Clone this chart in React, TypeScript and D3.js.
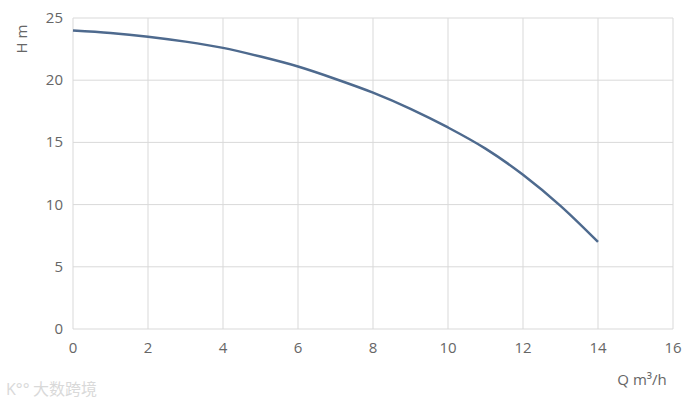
import React from "react";
import * as d3 from "d3";

// Q (m³/h) vs H (m) pump curve
const flowQ = [0, 1, 2, 3, 4, 5, 6, 7, 8, 9, 10, 11, 12, 13, 14];
const headH = [24, 23.8, 23.5, 23.1, 22.6, 21.9, 21.1, 20.1, 19.0, 17.7, 16.2, 14.5, 12.4, 9.9, 7.0];
const xTicks = [0, 2, 4, 6, 8, 10, 12, 14, 16];
const yTicks = [0, 5, 10, 15, 20, 25];

const App = () => {
  const width = 682;
  const height = 404;
  const left = 73; // plot left edge
  const right = 673;
  const top = 18;
  const bottom = 329;

  const x = d3.scaleLinear().domain([0, 16]).range([left, right]);
  const y = d3.scaleLinear().domain([0, 25]).range([bottom, top]);

  const line = d3
    .line<number>()
    .x((d, i) => x(flowQ[i]))
    .y((d) => y(d))
    .curve(d3.curveMonotoneX);

  const font = "'Open Sans', 'Noto Sans', sans-serif";
  const grid = "#d9d9d9";
  const txt = "#666666";

  return (
    <svg
      width={width}
      height={height}
      style={{ position: "absolute", left: 0, top: 0, background: "#fff" }}
      fontFamily={font}
    >
      {/* gridlines */}
      {xTicks.map((t) => (
        <line key={"gx" + t} x1={x(t)} x2={x(t)} y1={top} y2={bottom} stroke={grid} strokeWidth={1} />
      ))}
      {yTicks.map((t) => (
        <line key={"gy" + t} x1={left} x2={right} y1={y(t)} y2={y(t)} stroke={grid} strokeWidth={1} />
      ))}

      {/* tick labels */}
      {xTicks.map((t) => (
        <text key={"tx" + t} x={x(t)} y={bottom + 24} textAnchor="middle" fontSize={15} fill={txt}>
          {t}
        </text>
      ))}
      {yTicks.map((t) => (
        <text key={"ty" + t} x={left - 10} y={y(t) + 5} textAnchor="end" fontSize={15} fill={txt}>
          {t}
        </text>
      ))}

      {/* axis titles */}
      <text x={0} y={0} transform="translate(27,39) rotate(-90)" textAnchor="middle" fontSize={15} fill={txt}>
        H m
      </text>
      <text x={642} y={385} textAnchor="middle" fontSize={15} fill={txt}>
        Q m³/h
      </text>

      {/* curve */}
      <path d={line(headH) || ""} fill="none" stroke="#4e6a8e" strokeWidth={2.5} />

      {/* watermark */}
      <text x={33} y={395} fontSize={16} fill="#d9d9d9" fontFamily="'Noto Sans CJK SC', sans-serif">
        大数跨境
      </text>
      <text x={6} y={395} fontSize={16} fill="#d9d9d9" fontFamily={font}>
        K°°
      </text>
    </svg>
  );
};

export default App;
